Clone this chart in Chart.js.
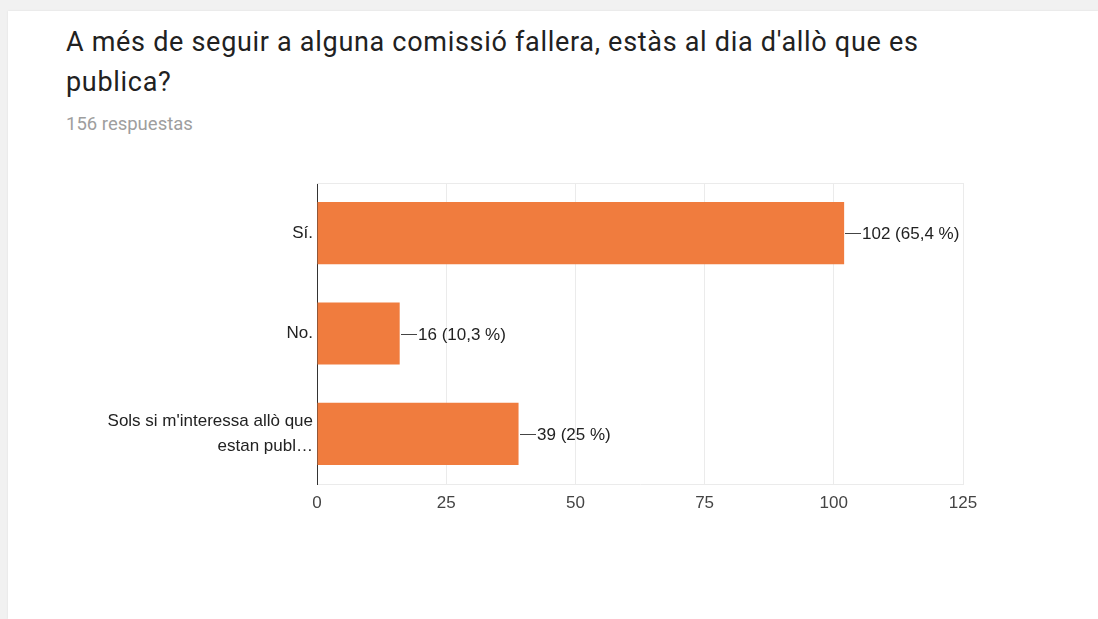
<!DOCTYPE html>
<html>
<head>
<meta charset="utf-8">
<script src="https://cdn.jsdelivr.net/npm/chart.js@4"></script>
<style>
  html, body { margin: 0; padding: 0; width: 1098px; height: 619px; overflow: hidden; background: #f1f1f1; }
  .card { position: absolute; left: 8px; top: 11px; right: 0; bottom: 0; background: #fff; box-shadow: 0 0 2px rgba(0,0,0,0.08); }
  .title { position: absolute; left: 58px; top: 11px; font-family: Roboto, sans-serif; font-size: 27px; letter-spacing: 0.7px; line-height: 40px; color: #212121; white-space: nowrap; }
  .count { position: absolute; left: 58px; top: 102px; font-family: Roboto, sans-serif; font-size: 18.5px; color: #9e9e9e; white-space: nowrap; }
  #wrap { position: absolute; left: 0; top: 150px; width: 1098px; height: 400px; }
</style>
</head>
<body>
<div class="card">
  <div class="title">A més de seguir a alguna comissió fallera, estàs al dia d'allò que es<br>publica?</div>
  <div class="count">156 respuestas</div>
</div>
<div id="wrap"><canvas id="chart" width="1098" height="400"></canvas></div>
<script>
"use strict";

// ── Data
const answers = ["Sí.", "No.", ["Sols si m'interessa allò que", "estan publ…"]];
const counts  = [102, 16, 39];
const total   = 156;
const xTicks  = [0, 25, 50, 75, 100, 125];

const BAR   = "#f07c3e";
const GRID  = "#ebebeb";
const FONT  = "'Liberation Sans', Arial, sans-serif";
const SIZE  = 17;

const pct = v => {
  const s = (v / total * 100).toFixed(1).replace(".0", "");
  return s.replace(".", ",") + " %";
};

// ── Value labels with a short leader line after each bar
const valueLabels = {
  id: "valueLabels",
  afterDatasetsDraw(chart) {
    const { ctx } = chart;
    const meta = chart.getDatasetMeta(0);
    ctx.save();
    ctx.font = SIZE + "px " + FONT;
    ctx.fillStyle = "#222";
    ctx.strokeStyle = "#444";
    ctx.lineWidth = 1;
    ctx.textBaseline = "middle";
    meta.data.forEach((bar, i) => {
      const x = Math.round(bar.x) + 1, y = Math.round(bar.y) + 0.5;
      ctx.beginPath();
      ctx.moveTo(x, y);
      ctx.lineTo(x + 16, y);
      ctx.stroke();
      ctx.fillText(`${counts[i]} (${pct(counts[i])})`, x + 17, y + 1);
    });
    ctx.restore();
  }
};

// ── Faint frame line along the top of the plot
const topLine = {
  id: "topLine",
  beforeDatasetsDraw(chart) {
    const { ctx, chartArea: a } = chart;
    ctx.save();
    ctx.strokeStyle = GRID;
    ctx.lineWidth = 1;
    ctx.beginPath();
    ctx.moveTo(a.left, Math.round(a.top) + 0.5);
    ctx.lineTo(a.right, Math.round(a.top) + 0.5);
    ctx.stroke();
    ctx.restore();
  }
};

new Chart(document.getElementById("chart").getContext("2d"), {
  type: "bar",
  data: {
    labels: answers,
    datasets: [{ data: counts, backgroundColor: BAR, barPercentage: 0.62, categoryPercentage: 1 }]
  },
  options: {
    indexAxis: "y",
    responsive: false,
    animation: false,
    layout: { padding: { top: 33, right: 135, left: 0, bottom: 0 } },
    plugins: { legend: { display: false }, tooltip: { enabled: false } },
    scales: {
      x: {
        min: 0, max: 125,
        afterBuildTicks: s => { s.ticks = xTicks.map(v => ({ value: v })); },
        afterFit: s => { s.height = 66; },
        grid: { color: c => c.tick && c.tick.value === 0 ? "rgba(0,0,0,0)" : GRID, drawTicks: false },
        border: { color: GRID },
        ticks: { color: "#444", padding: 9, font: { size: SIZE, family: FONT } }
      },
      y: {
        afterFit: s => { s.width = 317; },
        grid: { display: false, drawTicks: false },
        border: { color: "#333", width: 1 },
        ticks: { color: "#222", padding: 4, font: { size: SIZE, family: FONT, lineHeight: "25px" } }
      }
    }
  },
  plugins: [valueLabels, topLine]
});
</script>
</body>
</html>
